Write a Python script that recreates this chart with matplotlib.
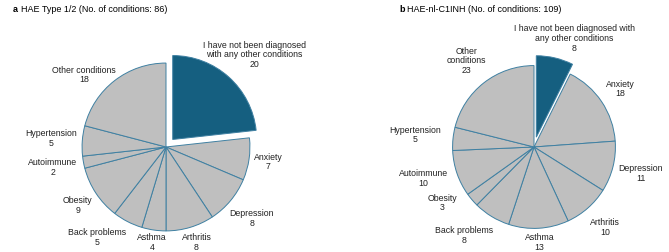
import numpy as np
import matplotlib
matplotlib.use("Agg")
import matplotlib.pyplot as plt

plt.rcParams["font.family"] = ["Liberation Sans", "DejaVu Sans"]

# Panel a: HAE Type 1/2
labels_a = [
    "I have not been diagnosed\nwith any other conditions",
    "Anxiety", "Depression", "Arthritis", "Asthma", "Back problems",
    "Obesity", "Autoimmune", "Hypertension", "Other conditions",
]
values_a = [20, 7, 8, 8, 4, 5, 9, 2, 5, 18]

# Panel b: HAE-nl-C1INH
labels_b = [
    "I have not been diagnosed with\nany other conditions",
    "Anxiety", "Depression", "Arthritis", "Asthma", "Back problems",
    "Obesity", "Autoimmune", "Hypertension", "Other\nconditions",
]
values_b = [8, 18, 11, 10, 13, 8, 3, 10, 5, 23]

# label distance (in radii) per wedge, and small angular nudges (deg, clockwise)
dist_a = [1.52, 1.23, 1.33, 1.19, 1.15, 1.35, 1.26, 1.37, 1.37, 1.30]
nudge_a = [2, 0, 0, -1, 0, 10, 0, 0, 0, -11]
dist_b = [1.38, 1.24, 1.31, 1.28, 1.14, 1.35, 1.28, 1.37, 1.42, 1.30]
nudge_b = [7, 0, 0, 0, 0, 7, 9, 3, 0, 0]

DARK = "#155f80"
GRAY = "#bfbfbf"
EDGE = "#3f80a2"


def draw_pie(ax, labels, values, dist, nudge, radius=1.0):
    colors = [DARK] + [GRAY] * (len(values) - 1)
    explode = [0.12] + [0] * (len(values) - 1)
    ax.pie(
        values,
        colors=colors,
        explode=explode,
        radius=radius,
        startangle=90,
        counterclock=False,
        wedgeprops=dict(edgecolor=EDGE, linewidth=0.7),
    )
    total = sum(values)
    cum = np.cumsum([0] + values)
    for i, (lab, v) in enumerate(zip(labels, values)):
        mid = (cum[i] + v / 2) / total * 360 + nudge[i]
        th = np.deg2rad(mid)
        x = dist[i] * np.sin(th)
        y = dist[i] * np.cos(th)
        ax.text(x, y, f"{lab}\n{v}", ha="center", va="center",
                fontsize=6.3, color="#222222", linespacing=1.12)
    ax.set_xlim(-1.65, 1.65)
    ax.set_ylim(-1.25, 1.75)
    ax.set_aspect("equal")


fig = plt.figure(figsize=(6.69, 2.52), dpi=100)

ax_a = fig.add_axes([166 / 669 - 0.207, 0.0, 0.414, 1.0])
ax_b = fig.add_axes([534 / 669 - 0.207, 0.0, 0.414, 1.0])

draw_pie(ax_a, labels_a, values_a, dist_a, nudge_a)
draw_pie(ax_b, labels_b, values_b, dist_b, nudge_b, radius=0.97)

fig.text(13 / 669, 1 - 9 / 252, "a", fontsize=6.5, fontweight="bold", va="center")
fig.text(21 / 669, 1 - 9 / 252, "HAE Type 1/2 (No. of conditions: 86)", fontsize=6.5, va="center")
fig.text(399 / 669, 1 - 9 / 252, "b", fontsize=6.5, fontweight="bold", va="center")
fig.text(407 / 669, 1 - 9 / 252, "HAE-nl-C1INH (No. of conditions: 109)", fontsize=6.5, va="center")

fig.savefig("out.png", dpi=100)
